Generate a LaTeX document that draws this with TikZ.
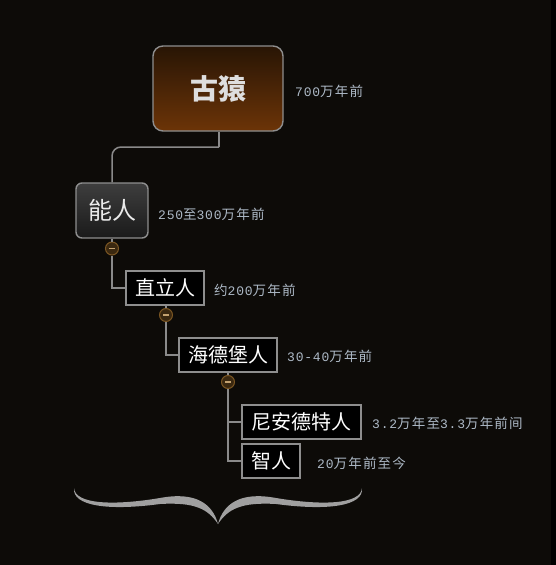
\documentclass[tikz,border=0pt]{standalone}
\usepackage{fontspec}
\newfontfamily\cjk{Noto Sans CJK SC}
\newfontfamily\labcjk[LetterSpace=9]{Noto Sans CJK SC}
\newfontfamily\labdg[LetterSpace=6]{Liberation Mono}
\newcommand\dg[1]{{\labdg\fontsize{13}{14}\selectfont #1}}
\definecolor{bgc}{HTML}{0D0B08}
\definecolor{boxborder}{HTML}{8E8E8E}
\definecolor{linec}{HTML}{8A8A8A}
\definecolor{labc}{HTML}{ADB9C6}
\definecolor{knobfill}{HTML}{3A2810}
\definecolor{knobline}{HTML}{7A5522}
\definecolor{knobminus}{HTML}{C4A270}
\definecolor{bracec}{HTML}{A0A0A0}
\tikzset{
  leaf/.style={draw=boxborder, line width=1.4pt, fill=black, text=white,
    font=\cjk\fontsize{20}{20}\selectfont, minimum height=34pt, inner sep=0pt},
  lab/.style={anchor=west, inner sep=0pt, text=labc, font=\labcjk\fontsize{13.5}{15}\selectfont},
  conn/.style={draw=linec, line width=1.5pt},
  knob/.style={circle, draw=knobline, line width=1pt, fill=knobfill, minimum size=13pt, inner sep=0pt,
    path picture={\draw[knobminus, line width=1.3pt] ([xshift=-3pt]path picture bounding box.center) -- ([xshift=3pt]path picture bounding box.center);}}
}
\begin{document}
\begin{tikzpicture}[x=1pt,y=-1pt]
\fill[bgc] (0,0) rectangle (556,565);
\fill[black] (551,0) rectangle (556,565);
\useasboundingbox (0,0) rectangle (556,565);

% nodes
\node[draw=boxborder, line width=1.4pt, rounded corners=10pt, top color={rgb,255:red,40;green,21;blue,5}, bottom color={rgb,255:red,108;green,52;blue,7},
  minimum width=130pt, minimum height=85pt, inner sep=0pt, text={rgb,255:red,222;green,222;blue,222},
  font=\cjk\bfseries\fontsize{28}{28}\selectfont] (gy) at (218,88.5) {古猿};
\node[draw=boxborder, line width=1.4pt, rounded corners=6pt, top color={rgb,255:red,62;green,62;blue,62}, bottom color={rgb,255:red,26;green,26;blue,26},
  minimum width=72pt, minimum height=55pt, inner sep=0pt, text={rgb,255:red,235;green,235;blue,235},
  font=\cjk\fontsize{24}{24}\selectfont] (nr) at (112,210.5) {能人};
\node[leaf, minimum width=78pt] (zl) at (165,288) {直立人};
\node[leaf, minimum width=98pt] (hd) at (228,355) {海德堡人};
\node[leaf, minimum width=119pt] (na) at (301.5,422) {尼安德特人};
\node[leaf, minimum width=58pt] (zr) at (271,461) {智人};

% labels
\node[lab] (l1) at (295,91) {\dg{700}万年前};
\node[lab] (l2) at (158,214) {\dg{250}至\dg{300}万年前};
\node[lab] (l3) at (214,290) {约\dg{200}万年前};
\node[lab] (l4) at (287,356) {\dg{30-40}万年前};
\node[lab] (l5) at (372,423) {\dg{3.2}万年至\dg{3.3}万年前间};
\node[lab] (l6) at (317,463) {\dg{20}万年前至今};

% connectors
\coordinate (c1) at (219,147);
\draw[conn] (gy.south -| c1) -- (c1);
\draw[conn, rounded corners=9pt] (c1) -| (nr.north);

\node[knob] (k1) at (112,248.5) {};
\node[knob] (k2) at (166,315) {};
\node[knob] (k3) at (228,382) {};

\draw[conn] (nr.south -| k1) -- (k1.north);
\draw[conn] (k1.south) |- (zl.west);
\draw[conn] (zl.south -| k2) -- (k2.north);
\draw[conn] (k2.south) |- (hd.west);
\draw[conn] (hd.south -| k3) -- (k3.north);
\draw[conn] (k3.south) |- (zr.west);
\draw[conn] (k3.south) |- (na.west);

% brace
\fill[bracec] (74,488) .. controls (75,504) and (112,506) .. (160,498)
  .. controls (197,491) and (213,505) .. (218,524)
  .. controls (208,509) and (195,502) .. (160,504)
  .. controls (108,511) and (72,506) .. (74,488) -- cycle;
\fill[bracec] (362,488) .. controls (361,504) and (324,506) .. (276,498)
  .. controls (239,491) and (223,505) .. (218,524)
  .. controls (228,509) and (241,502) .. (276,504)
  .. controls (328,511) and (364,506) .. (362,488) -- cycle;
\end{tikzpicture}
\end{document}
